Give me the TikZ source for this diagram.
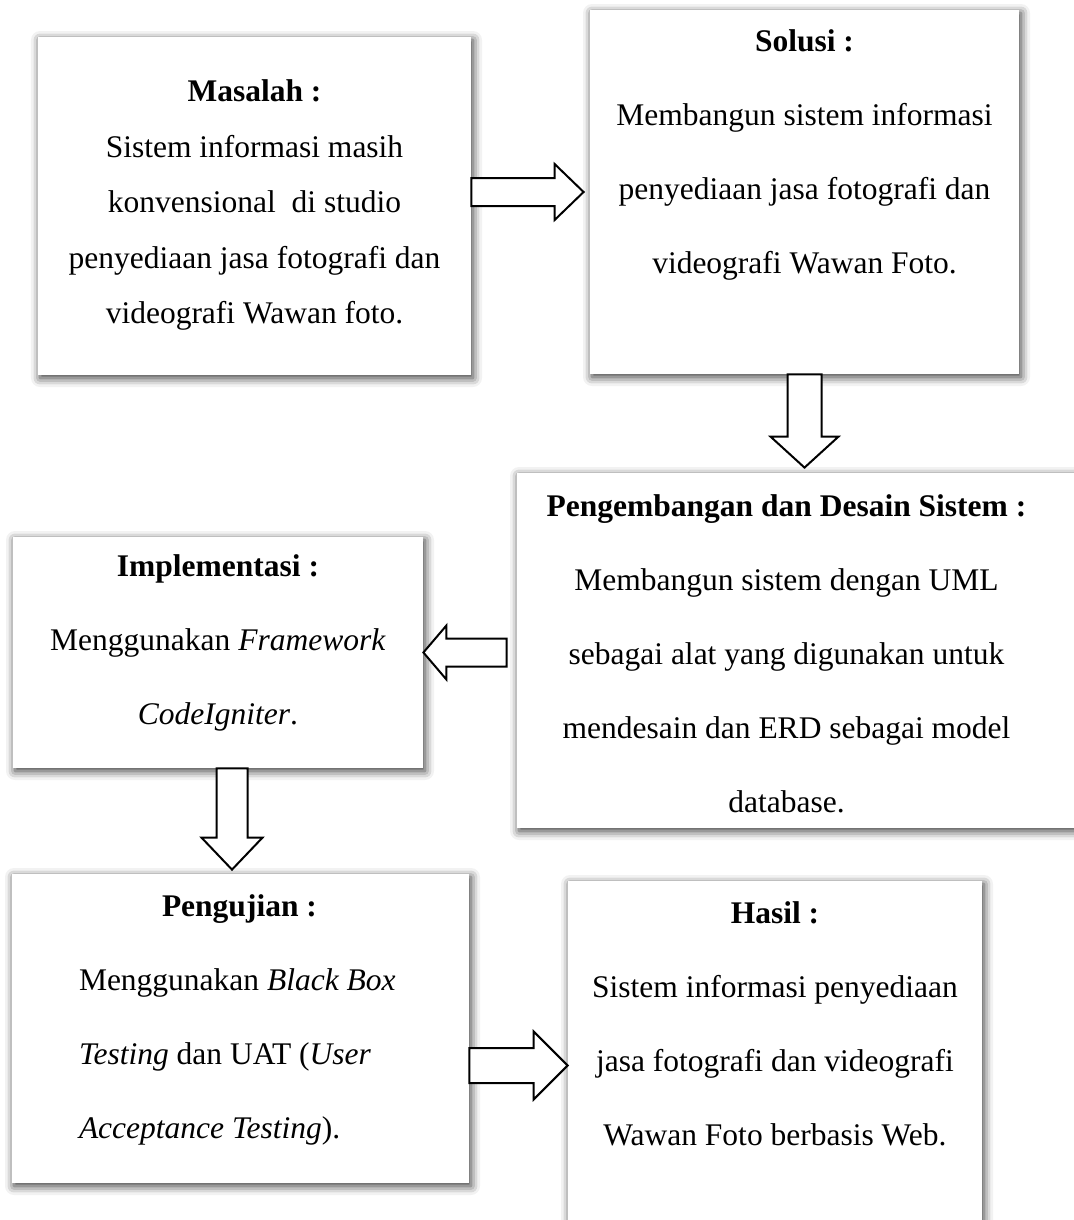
\documentclass[tikz,border=0pt]{standalone}
\usepackage{fontspec}
\setmainfont{Liberation Serif}
\usetikzlibrary{positioning, calc, shadows.blur}

\begin{document}
\begin{tikzpicture}[
         x = 0.5pt, y = -0.5pt,
 kotak/.style 2 args = {fill=white, inner sep=0pt,
                 minimum width=#1, minimum height=#2,
                 blur shadow={shadow xshift=1pt, shadow yshift=-1.5pt,
                              shadow blur radius=4.5pt, shadow opacity=80}},
  teks/.style = {inner sep=0pt, align=center,
                 font=\fontsize{15.75}{37}\selectfont},
 panah/.style n args = {3}{draw, fill=white, line width=1pt,
                 to path={($(\tikztostart)!#1!90:(\tikztotarget)$)
                   -- ($($(\tikztotarget)!#3!(\tikztostart)$)!#1!90:(\tikztotarget)$)
                   -- ($($(\tikztotarget)!#3!(\tikztostart)$)!#2!90:(\tikztotarget)$)
                   -- (\tikztotarget)
                   -- ($($(\tikztotarget)!#3!(\tikztostart)$)!#2!-90:(\tikztotarget)$)
                   -- ($($(\tikztotarget)!#3!(\tikztostart)$)!#1!-90:(\tikztotarget)$)
                   -- ($(\tikztostart)!#1!-90:(\tikztotarget)$) -- cycle}}
                    ]
\useasboundingbox (0,0) rectangle (1074,1220);

\node[kotak={216.5pt}{169pt}]   (masalah)      at (254.5,206)   {};
\node[kotak={214.5pt}{182pt}]   (solusi)       at (804.5,192)   {};
\node[kotak={281.5pt}{177.5pt}] (desain)       at (798.5,650.5) {};
\node[kotak={205pt}{115.5pt}]   (implementasi) at (218,652.5)   {};
\node[kotak={228.5pt}{154.5pt}] (pengujian)    at (240.5,1028.5){};
\node[kotak={207pt}{184.5pt}]   (hasil)        at (775,1065.5)  {};

\node[teks, font=\fontsize{15.75}{27.75}\selectfont,
      below=21.5pt of masalah.north] (masalahT) {\textbf{Masalah :}\\
                     Sistem informasi masih\\
                     konvensional\ \ di studio\\
                     penyediaan jasa fotografi dan\\
                     videografi Wawan foto.};
\node[teks, below=10pt of solusi.north] (solusiT) {\textbf{Solusi :}\\
                     Membangun sistem informasi\\
                     penyediaan jasa fotografi dan\\
                     videografi Wawan Foto.};
\node[teks, below=11pt of desain.north, xshift=-6pt] (desainT) {%
                     \textbf{Pengembangan dan Desain Sistem :}\\
                     Membangun sistem dengan UML\\
                     sebagai alat yang digunakan untuk\\
                     mendesain dan ERD sebagai model\\
                     database.};
\node[teks, below=9pt of implementasi.north] (implementasiT) {%
                     \textbf{Implementasi :}\\
                     Menggunakan \textit{Framework}\\
                     \textit{CodeIgniter}.};
\node[teks, align=left, anchor=north west]
      (pengujianT) at ([xshift=33.5pt, yshift=-10.5pt]pengujian.north west) {%
                     \hspace*{41.5pt}\textbf{Pengujian :}\\
                     Menggunakan \textit{Black Box}\\
                     \textit{Testing} dan UAT (\textit{User}\\
                     \textit{Acceptance Testing}).};
\node[teks, below=10.5pt of hasil.north] (hasilT) {\textbf{Hasil :}\\
                     Sistem informasi penyediaan\\
                     jasa fotografi dan videografi\\
                     Wawan Foto berbasis Web.};

\coordinate (a1s) at (masalah.east |- solusi.west);
\coordinate (a1e) at ([xshift=-3pt]solusi.west);
\coordinate (a2s) at (solusi.south);
\coordinate (a2e) at ([yshift=2.5pt]solusi.south |- desain.north);
\coordinate (a3s) at ([xshift=-5pt]desain.west |- implementasi.east);
\coordinate (a3e) at (implementasi.east);
\coordinate (a4s) at ([xshift=7pt]implementasi.south);
\coordinate (a4e) at ([yshift=2pt]a4s |- pengujian.north);
\coordinate (a5s) at (pengujian.east |- hasil.west);
\coordinate (a5e) at (hasil.west);

\draw[panah={7pt}{14pt}{14.5pt}]      (a1s) to (a1e);
\draw[panah={8.5pt}{17pt}{15.5pt}]    (a2s) to (a2e);
\draw[panah={7pt}{13.5pt}{11.5pt}]    (a3s) to (a3e);
\draw[panah={7.75pt}{15.25pt}{16pt}]  (a4s) to (a4e);
\draw[panah={8.75pt}{17pt}{17pt}]     (a5s) to (a5e);
\end{tikzpicture}
\end{document}
